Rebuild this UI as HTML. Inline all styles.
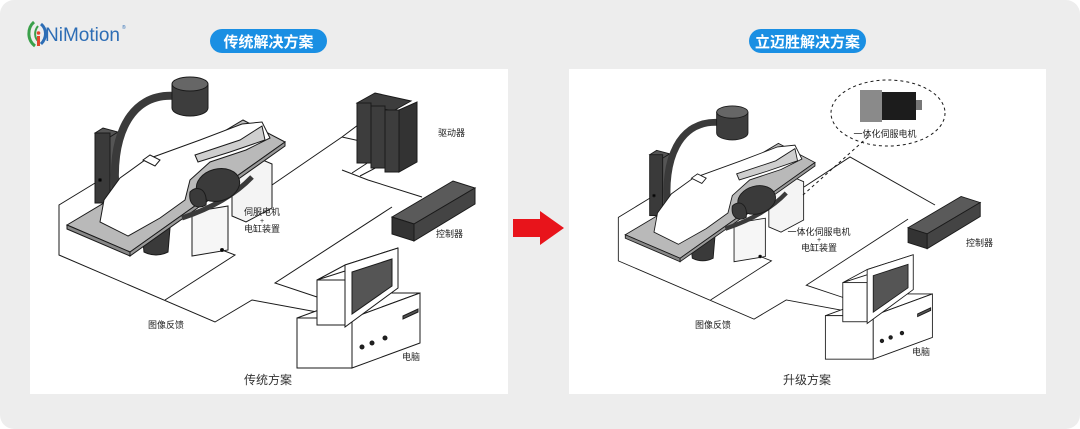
<!DOCTYPE html>
<html><head><meta charset="utf-8"><style>
html,body{margin:0;padding:0;background:#fff}
svg{display:block}
text{font-family:"Liberation Sans","Noto Sans CJK SC",sans-serif}
</style></head><body>
<svg width="1080" height="429" viewBox="0 0 1080 429" xmlns="http://www.w3.org/2000/svg">
<rect x="0" y="0" width="1080" height="429" rx="14" fill="#ededed"/>
<g>
<path d="M34 22 C27 28 27 40 35 46" stroke="#3aa04a" stroke-width="3" fill="none"/>
<path d="M38 26 C34 31 34 38 39 42" stroke="#3aa04a" stroke-width="2" fill="none"/>
<rect x="37" y="36" width="3" height="10" fill="#e2452d"/>
<circle cx="38.5" cy="33" r="1.8" fill="#e2452d"/>
<path d="M41 24 C47 29 47 38 41 44" stroke="#2d6db5" stroke-width="3" fill="none"/>
<text x="45" y="41" font-size="19" fill="#2d6db5">NiMotion</text>
<text x="122" y="29" font-size="5" fill="#2d6db5">®</text>
</g>
<rect x="210" y="29" width="117" height="24" rx="12" fill="#1a8fe3"/>
<text x="268.5" y="47" font-size="15" font-weight="bold" fill="#fff" text-anchor="middle">传统解决方案</text>
<rect x="749" y="29" width="117" height="24" rx="12" fill="#1a8fe3"/>
<text x="807.5" y="47" font-size="15" font-weight="bold" fill="#fff" text-anchor="middle">立迈胜解决方案</text>
<rect x="30" y="69" width="478" height="325" fill="#fff"/>
<rect x="569" y="69" width="477" height="325" fill="#fff"/>
<polygon points="513,219 540,219 540,211 564,228 540,245 540,237 513,237" fill="#e8141b"/>

<defs>
<g id="m" stroke="#1a1a1a" stroke-width="1">
 <g fill="none">
  <polyline points="100,180 59,205 59,255 215,322 252,300 317,312"/>
  <polyline points="165,300 235,255 222,250"/>
  <polyline points="392,207 275,283 317,297"/>
 </g>
 <polygon points="95,133 103,128 118,132 110,137" fill="#555"/>
 <rect x="95" y="133" width="15" height="70" fill="#3a3a3a"/>
 <polygon points="110,137 118,132 118,198 110,203" fill="#555"/>
 <circle cx="100" cy="180" r="1.5" fill="#000"/>
 <path d="M116 195 C110 140 128 92 176 96" stroke="#3a3a3a" stroke-width="8" fill="none"/>
 <path d="M172 84 L172 108 A18 8 0 0 0 208 108 L208 84 Z" fill="#3d3d3d"/>
 <ellipse cx="190" cy="84" rx="18" ry="7" fill="#666"/>
 <polygon points="232,170 258,158 272,164 272,208 246,222 232,216" fill="#f4f4f4"/>
 <path d="M142 232 L170 228 L168 252 Q156 258 144 252 Z" fill="#3a3a3a"/>
 <polygon points="67,225 243,120 285,142 130,252" fill="#b9b9b9"/>
 <polygon points="67,225 130,252 130,256 67,229" fill="#888"/>
 <polygon points="130,252 285,142 285,146 130,256" fill="#999"/>
 <polygon points="100,222 104,200 120,178 145,160 200,140 242,124 262,122 270,138 246,150 210,162 190,180 185,200 160,218 128,236" fill="#fff"/>
 <polygon points="195,155 240,140 262,126 265,140 230,152 198,162" fill="#cfcfcf"/>
 <polygon points="143,160 150,155 160,160 155,166" fill="#fff"/>
 <polygon points="192,212 228,206 228,250 192,256" fill="#f6f6f6"/>
 <circle cx="222" cy="250" r="1.5" fill="#000"/>
 <path d="M182 218 C200 212 230 200 252 177" stroke="#3a3a3a" stroke-width="5" fill="none"/>
 <ellipse cx="218" cy="185" rx="22" ry="16" fill="#3a3a3a" transform="rotate(-15 218 185)"/>
 <path d="M190 192 C198 184 208 190 206 205 C198 210 188 206 190 192 Z" fill="#3a3a3a"/>
 <polygon points="392,217 453,181 475,188 414,224" fill="#5a5a5a"/>
 <polygon points="392,217 414,224 414,241 392,234" fill="#333"/>
 <polygon points="414,224 475,188 475,204 414,241" fill="#444"/>
 <polygon points="297,318 365,293 420,293 352,318" fill="#fff"/>
 <rect x="297" y="318" width="55" height="50" fill="#fff"/>
 <polygon points="352,318 420,293 420,343 352,368" fill="#fff"/>
 <circle cx="362" cy="347" r="2" fill="#222"/><circle cx="372" cy="343" r="2" fill="#222"/><circle cx="385" cy="338" r="2" fill="#222"/>
 <polygon points="403,316 418,309 418,312 403,319" fill="#555"/>
 <polygon points="317,280 345,265 398,248 370,263" fill="#fff"/>
 <rect x="317" y="280" width="28" height="45" fill="#fff"/>
 <polygon points="345,265 398,248 398,288 345,327" fill="#fff"/>
 <polygon points="352,272 392,259 392,286 352,314" fill="#555"/>
</g>
</defs>

<use href="#m"/>
<g stroke="#1a1a1a" stroke-width="1">
 <polyline points="272,185 342,137 362,122" fill="none"/>
 <polyline points="342,137 378,145 395,132" fill="none"/>
 <polyline points="342,170 368,180 422,197" fill="none"/>
 <polyline points="352,173 372,160" fill="none"/><polyline points="360,176 387,162" fill="none"/>
 <g fill="#3d3d3d">
  <polygon points="357,103 375,93 411,101 393,111"/>
  <rect x="357" y="103" width="14" height="60"/>
  <rect x="371" y="106" width="14" height="62"/>
  <rect x="385" y="110" width="14" height="62"/>
  <polygon points="399,110 417,102 417,162 399,172" fill="#333"/>
 </g>
</g>
<use href="#m" transform="matrix(0.87 0 0 0.87 567 39)"/>
<g stroke="#1a1a1a" stroke-width="1" fill="none">
 <polyline points="804,187 850,157 935,205"/>
 <path d="M803 195 L870 135" stroke-dasharray="3,3"/>
 <ellipse cx="888" cy="113" rx="57" ry="33" stroke-dasharray="3,3"/>
</g>
<rect x="860" y="90" width="22" height="32" fill="#8a8a8a"/>
<rect x="882" y="92" width="34" height="28" fill="#1c1c1c"/>
<rect x="916" y="100" width="6" height="10" fill="#777"/>

<g font-size="9" fill="#222">
 <text x="438" y="136">驱动器</text>
 <text x="262" y="215" text-anchor="middle">伺服电机</text>
 <text x="262" y="223" text-anchor="middle" font-size="7">+</text>
 <text x="262" y="232" text-anchor="middle">电缸装置</text>
 <text x="436" y="237">控制器</text>
 <text x="148" y="328">图像反馈</text>
 <text x="402" y="360">电脑</text>
 <text x="885" y="137" text-anchor="middle">一体化伺服电机</text>
 <text x="819" y="235" text-anchor="middle">一体化伺服电机</text>
 <text x="819" y="242" text-anchor="middle" font-size="7">+</text>
 <text x="819" y="251" text-anchor="middle">电缸装置</text>
 <text x="966" y="246">控制器</text>
 <text x="695" y="328">图像反馈</text>
 <text x="912" y="355">电脑</text>
</g>
<text x="268" y="384" font-size="12" fill="#333" text-anchor="middle">传统方案</text>
<text x="807" y="384" font-size="12" fill="#333" text-anchor="middle">升级方案</text>
</svg>
</body></html>
